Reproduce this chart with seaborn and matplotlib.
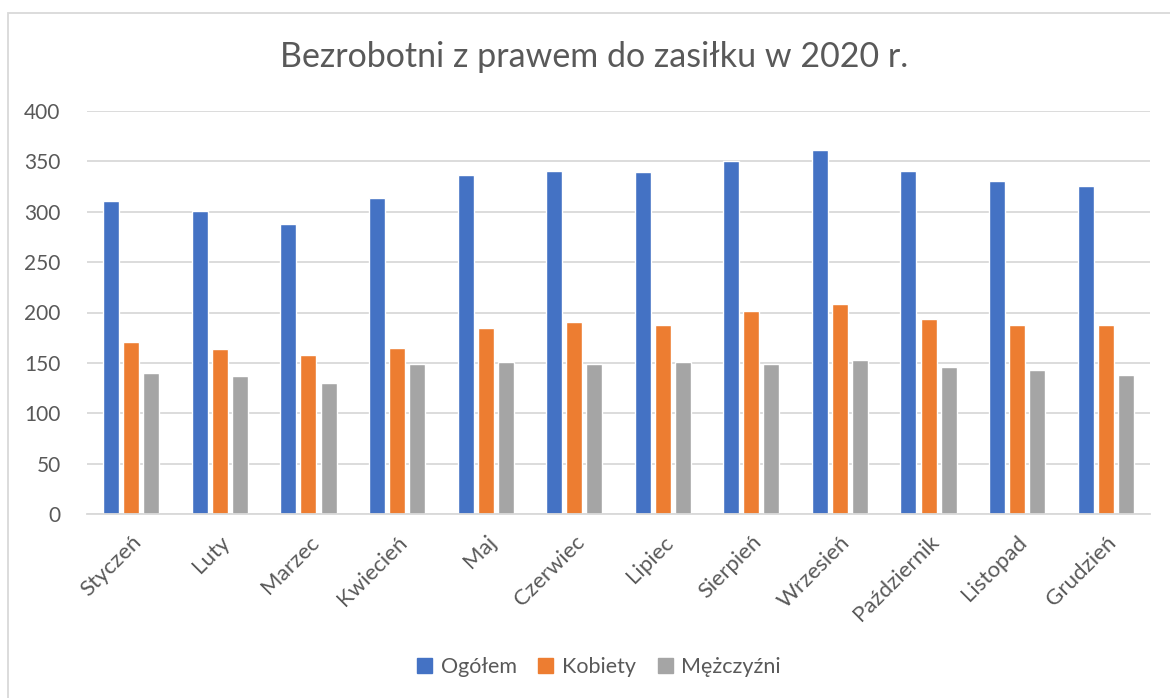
import numpy as np
import pandas as pd
import seaborn as sns
import matplotlib.pyplot as plt
from matplotlib.patches import Rectangle

# data
months = ["Styczeń", "Luty", "Marzec", "Kwiecień", "Maj", "Czerwiec",
          "Lipiec", "Sierpień", "Wrzesień", "Październik", "Listopad", "Grudzień"]
ogolem = [311, 301, 288, 314, 336, 340, 339, 350, 361, 340, 331, 326]
kobiety = [171, 164, 158, 165, 185, 191, 188, 201, 208, 194, 188, 188]
mezczyzni = [140, 137, 130, 149, 151, 149, 151, 149, 153, 146, 143, 138]
series = ["Ogółem", "Kobiety", "Mężczyźni"]
colors = ["#4472C4", "#ED7D31", "#A5A5A5"]

df = pd.DataFrame({"Miesiąc": months, "Ogółem": ogolem,
                   "Kobiety": kobiety, "Mężczyźni": mezczyzni})
df = df.melt(id_vars="Miesiąc", var_name="Seria", value_name="Liczba")

sns.set_theme(style="white")
plt.rcParams['font.family'] = ['Lato', 'DejaVu Sans']
txt = "#595959"

fig = plt.figure(figsize=(11.7, 6.98), dpi=100)
ax = fig.add_axes([87 / 1170, 1 - 514 / 698, (1150 - 87) / 1170, (514 - 111) / 698])

sns.barplot(data=df, x="Miesiąc", y="Liczba", hue="Seria", hue_order=series,
            palette=colors, width=0.68, gap=0.2, saturation=1, ax=ax,
            legend=False)

ax.set_ylim(0, 400)
ax.set_xlim(-0.5, len(months) - 0.5)
ax.set_yticks(np.arange(0, 401, 50))
ax.yaxis.grid(True, color="#D9D9D9", linewidth=1.3)
ax.set_axisbelow(True)
for s in ["top", "right", "left"]:
    ax.spines[s].set_visible(False)
ax.spines["bottom"].set_color("#D9D9D9")
ax.spines["bottom"].set_linewidth(1.3)
ax.set_xlabel("")
ax.set_ylabel("")
ax.tick_params(axis="y", length=0, pad=19, labelsize=15, labelcolor=txt)
ax.tick_params(axis="x", length=0, pad=13, labelsize=16, labelcolor=txt)
plt.setp(ax.get_xticklabels(), rotation=45, ha="right", rotation_mode="anchor")

fig.text(594 / 1170, 1 - 57 / 698, "Bezrobotni z prawem do zasiłku w 2020 r.",
         ha="center", va="center", fontsize=24.5, color=txt)

handles = [Rectangle((0, 0), 1, 1, color=c) for c in colors]
fig.legend(handles, series, loc="center", bbox_to_anchor=(599 / 1170, 1 - 667 / 698),
           ncol=3, frameon=False, fontsize=15.5, labelcolor=txt,
           handlelength=0.7, handleheight=0.7, handletextpad=0.4,
           columnspacing=1.0)

fig.patches.append(Rectangle((8 / 1170, -0.1), 1.2, 1 - 13 / 698 + 0.1,
                             transform=fig.transFigure, fill=False,
                             edgecolor="#D9D9D9", linewidth=1.3))

fig.savefig("out.png", dpi=100)
